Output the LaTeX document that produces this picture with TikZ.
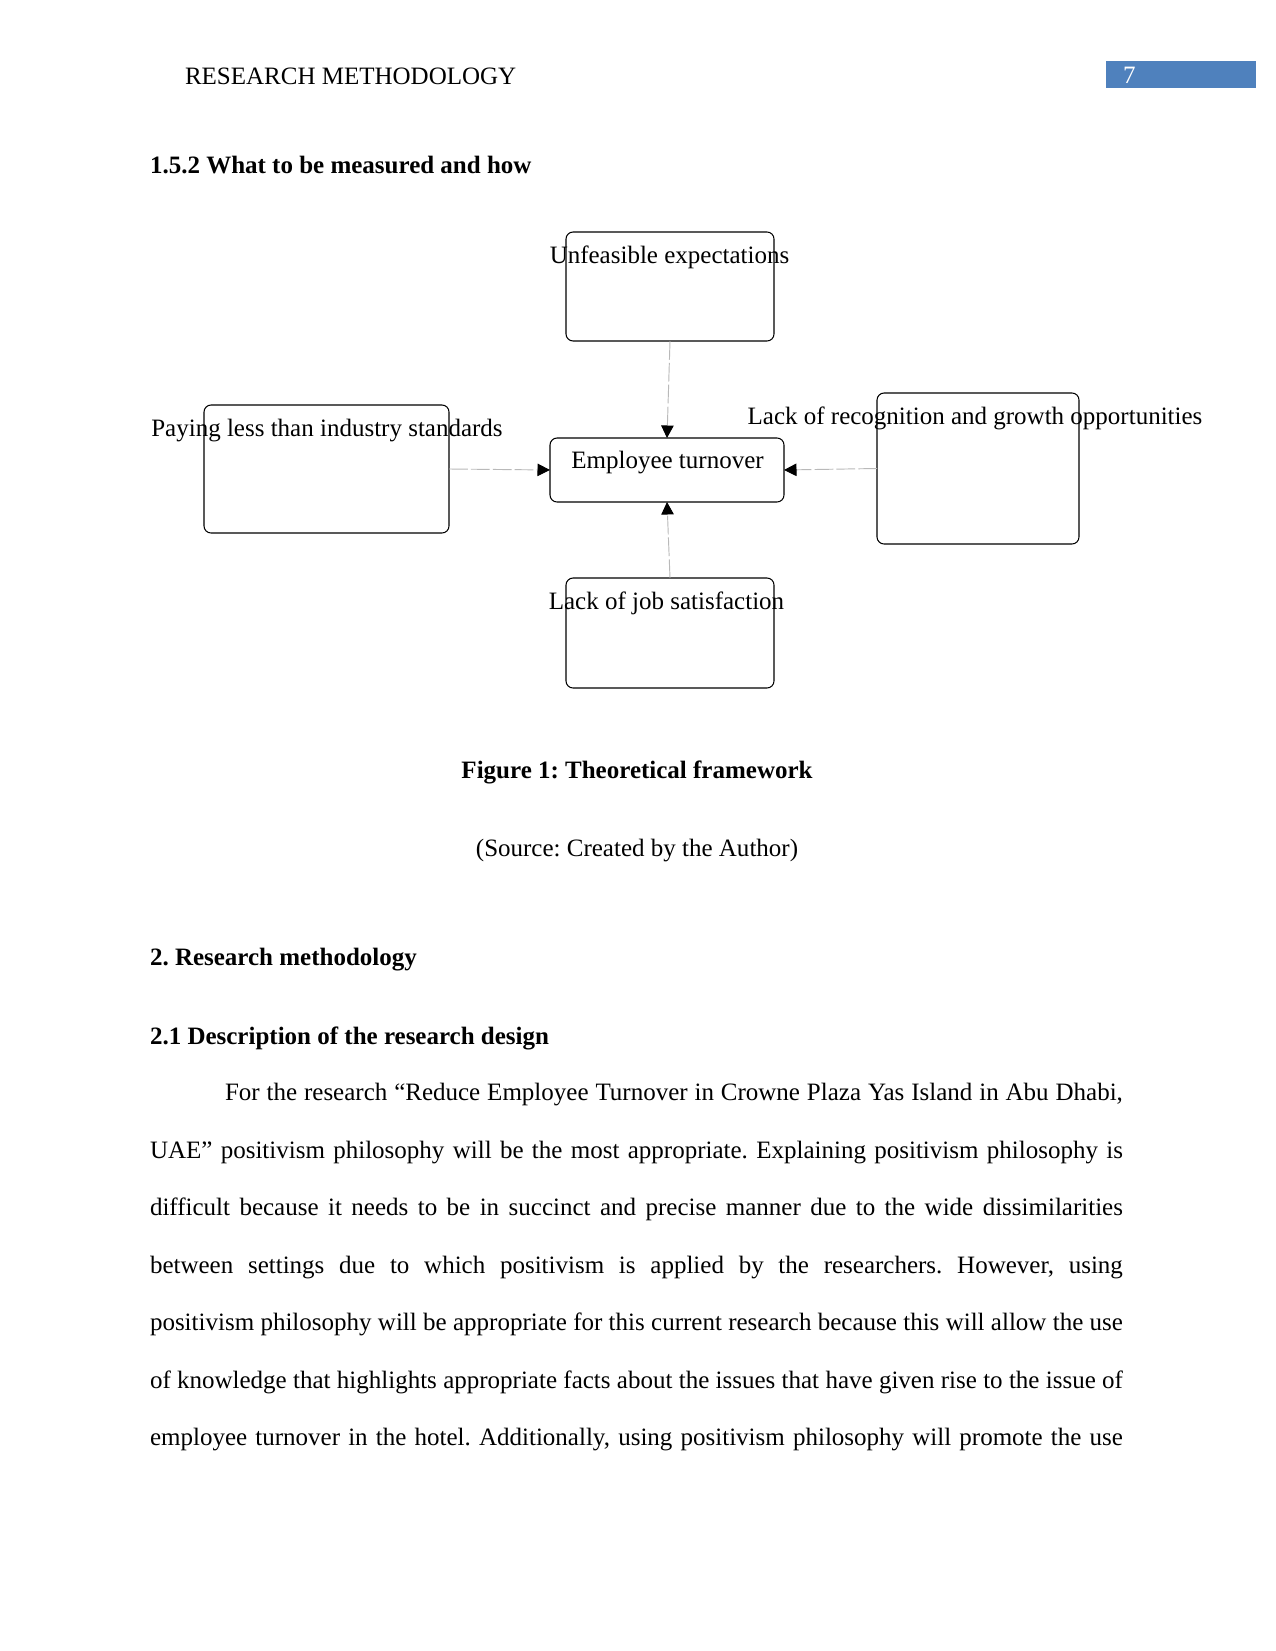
\documentclass[tikz,border=0pt]{standalone}
\usepackage{fontspec}
\setmainfont{Liberation Serif}
\usetikzlibrary{arrows.meta}
\definecolor{hdrblue}{RGB}{79,129,189}
\newcommand{\jl}[2]{\hbox to #1{#2}}
\begin{document}
\frenchspacing
\begin{tikzpicture}[x=0.48pt,y=-0.48pt,
  every node/.style={font=\fontsize{12}{14}\selectfont\frenchspacing, inner sep=0pt, outer sep=0pt},
  fbox/.style={draw=black, line width=0.5pt, rounded corners=3.4pt, rectangle},
  conn/.style={draw=gray!55, line width=0.45pt, dash pattern=on 9pt off 1.5pt,
    -{Triangle[length=6pt,width=6pt,color=black]}},
  lbl/.style={anchor=base},
  txt/.style={anchor=base west},
  bold/.style={font=\fontsize{12}{14}\selectfont\bfseries\frenchspacing}]
\useasboundingbox (0,0) rectangle (1275,1651);
\fill[white] (0,0) rectangle (1275,1651);

% header
\node[txt] (hdr) at (185,84.5) {RESEARCH METHODOLOGY};
\node[fill=hdrblue, minimum width=72pt, minimum height=12.96pt] (pgbox) at (1181,74.5) {};
\node[txt, text=white] (pgnum) at (1123,84) {7};

\node[txt, bold] (h152) at (150,174) {1.5.2 What to be measured and how};

% boxes
\node[fbox, minimum width=99.84pt, minimum height=52.32pt] (ue) at (670,286.5) {};
\node[fbox, minimum width=112.32pt, minimum height=30.72pt] (et) at (667,470) {};
\node[fbox, minimum width=117.6pt, minimum height=61.44pt] (pay) at (326.5,469) {};
\node[fbox, minimum width=96.96pt, minimum height=72.48pt] (rec) at (978,468.5) {};
\node[fbox, minimum width=99.84pt, minimum height=52.8pt] (js) at (670,633) {};

% labels
\node[lbl] (uet) at (669.5,263) {Unfeasible expectations};
\node[lbl] (ett) at (667.5,468) {Employee turnover};
\node[lbl] (payt) at (327,436) {Paying less than industry standards};
\node[lbl] (rect) at (975,424) {Lack of recognition and growth opportunities};
\node[lbl] (jst) at (666.5,609) {Lack of job satisfaction};

% connectors
\draw[conn] (ue.south) -- (et.north);
\draw[conn] (pay.east) -- (et.west);
\draw[conn] (rec.west) -- (et.east);
\draw[conn] (js.north) -- (et.south);

% captions
\node[lbl, bold] (cap) at (637,778.5) {Figure 1: Theoretical framework};
\node[lbl] (src) at (637,856.5) {(Source: Created by the Author)};

\node[txt, bold] (h2) at (150,965) {2. Research methodology};
\node[txt, bold] (h21) at (150,1044) {2.1 Description of the research design};

% paragraph
\node[txt] (p1) at (225,1100) {\jl{431pt}{For the research “Reduce Employee Turnover in Crowne Plaza Yas Island in Abu Dhabi,}};
\node[txt] (p2) at (150,1158) {\jl{467pt}{UAE” positivism philosophy will be the most appropriate. Explaining positivism philosophy is}};
\node[txt] (p3) at (150,1215.5) {\jl{467pt}{difficult because it needs to be in succinct and precise manner due to the wide dissimilarities}};
\node[txt] (p4) at (150,1273) {\jl{467pt}{between settings due to which positivism is applied by the researchers. However, using}};
\node[txt] (p5) at (150,1330.5) {\jl{467pt}{positivism philosophy will be appropriate for this current research because this will allow the use}};
\node[txt] (p6) at (150,1388) {\jl{467pt}{of knowledge that highlights appropriate facts about the issues that have given rise to the issue of}};
\node[txt] (p7) at (150,1445.5) {\jl{467pt}{employee turnover in the hotel. Additionally, using positivism philosophy will promote the use}};
\end{tikzpicture}
\end{document}
